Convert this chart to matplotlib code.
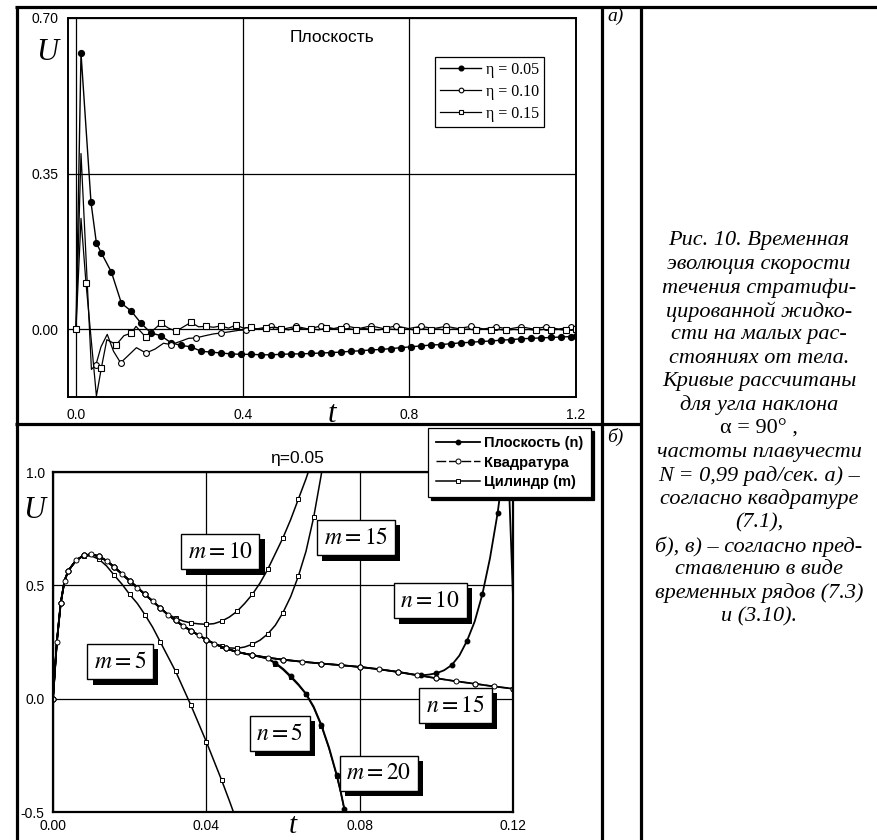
import matplotlib
matplotlib.use('Agg')
import matplotlib.pyplot as plt
from matplotlib.lines import Line2D
import matplotlib.patheffects as pe

plt.rcParams['mathtext.fontset'] = 'stix'
plt.rcParams['font.family'] = ['Liberation Sans', 'DejaVu Sans']

# ---------------- data: panel a) ----------------
t05 = [0.0, 0.012, 0.036, 0.049, 0.061, 0.085, 0.109, 0.133, 0.156, 0.180, 0.204, 0.228,
       0.252, 0.276, 0.300, 0.324, 0.348, 0.372, 0.396, 0.420, 0.444, 0.468, 0.492, 0.516,
       0.540, 0.564, 0.588, 0.612, 0.636, 0.660, 0.684, 0.708, 0.732, 0.756, 0.780, 0.804,
       0.828, 0.852, 0.876, 0.900, 0.924, 0.948, 0.972, 0.996, 1.020, 1.044, 1.068, 1.092,
       1.116, 1.140, 1.164, 1.188, 1.200]
u05 = [0.0, 0.621, 0.285, 0.193, 0.171, 0.128, 0.058, 0.040, 0.013, -0.009, -0.015, -0.031,
       -0.037, -0.040, -0.050, -0.052, -0.054, -0.056, -0.057, -0.057, -0.058, -0.058, -0.057, -0.056,
       -0.056, -0.055, -0.054, -0.053, -0.052, -0.050, -0.049, -0.047, -0.046, -0.044, -0.042, -0.040,
       -0.038, -0.036, -0.035, -0.033, -0.031, -0.030, -0.028, -0.027, -0.025, -0.024, -0.022, -0.021,
       -0.020, -0.019, -0.018, -0.017, -0.016]

t10 = [0.0, 0.012, 0.037, 0.048, 0.060, 0.075, 0.090, 0.107, 0.125, 0.145, 0.168, 0.190,
       0.210, 0.228, 0.250, 0.270, 0.288, 0.310, 0.330, 0.348, 0.370, 0.390, 0.408, 0.438,
       0.468, 0.498, 0.528, 0.558, 0.588, 0.618, 0.648, 0.678, 0.708, 0.738, 0.768, 0.798,
       0.828, 0.858, 0.888, 0.918, 0.948, 0.978, 1.008, 1.038, 1.068, 1.098, 1.128, 1.158,
       1.188, 1.200]
u10 = [0.0, 0.395, -0.091, -0.080, -0.040, -0.012, -0.050, -0.076, -0.060, -0.042, -0.054, -0.045,
       -0.032, -0.035, -0.028, -0.021, -0.020, -0.015, -0.011, -0.009, -0.006, -0.003, -0.002, 0.001,
       0.006, 0.000, 0.006, 0.000, 0.007, 0.001, 0.007, 0.001, 0.007, 0.001, 0.007, 0.001,
       0.006, 0.001, 0.006, 0.001, 0.006, 0.000, 0.005, 0.000, 0.005, 0.000, 0.005, 0.000,
       0.004, 0.003]
mk10 = [0, 3, 7, 10, 13, 16, 19, 22, 24, 26, 28, 30, 32, 34, 36, 38, 40, 42, 44, 46, 48]

t15 = [0.0, 0.012, 0.024, 0.049, 0.061, 0.074, 0.097, 0.115, 0.133, 0.144, 0.168, 0.186,
       0.204, 0.222, 0.240, 0.258, 0.276, 0.294, 0.312, 0.330, 0.348, 0.366, 0.384, 0.402,
       0.420, 0.438, 0.456, 0.474, 0.492, 0.510, 0.528, 0.546, 0.564, 0.582, 0.600, 0.618,
       0.636, 0.654, 0.672, 0.690, 0.708, 0.726, 0.744, 0.762, 0.780, 0.798, 0.816, 0.834,
       0.852, 0.870, 0.888, 0.906, 0.924, 0.942, 0.960, 0.978, 0.996, 1.014, 1.032, 1.050,
       1.068, 1.086, 1.104, 1.122, 1.140, 1.158, 1.176, 1.194, 1.200]
u15 = [0.0, 0.249, 0.103, -0.151, -0.087, -0.024, -0.035, -0.015, -0.009, 0.006, -0.019, -0.002,
       0.013, 0.002, -0.005, 0.005, 0.015, 0.005, 0.006, 0.004, 0.007, 0.002, 0.009, 0.002,
       0.004, -0.001, 0.002, 0.004, 0.001, -0.002, 0.003, 0.000, 0.001, -0.002, 0.002, 0.001,
       -0.001, 0.001, -0.002, 0.001, 0.000, -0.002, 0.001, -0.001, -0.002, 0.000, -0.003, 0.000,
       -0.002, 0.000, -0.003, 0.000, -0.002, 0.000, -0.003, 0.000, -0.002, -0.001, -0.003, -0.001,
       -0.002, -0.001, -0.003, -0.001, -0.002, -0.001, -0.003, -0.001, -0.001]
mk15 = [0, 2, 4, 6, 8, 10] + list(range(12, 69, 2))

legend_a = ['η = 0.05', 'η = 0.10', 'η = 0.15']

# ---------------- data: panel b) ----------------
t_base = [0.000, 0.001, 0.002, 0.003, 0.004, 0.006, 0.008, 0.010, 0.012, 0.014, 0.016, 0.018,
          0.020, 0.022, 0.024, 0.026, 0.028, 0.030, 0.032, 0.034, 0.036, 0.038, 0.040, 0.042,
          0.045, 0.048, 0.052, 0.056, 0.060, 0.065, 0.070, 0.075, 0.080, 0.085, 0.090, 0.095,
          0.100, 0.105, 0.110, 0.115, 0.120]
u_base = [0.000, 0.250, 0.420, 0.520, 0.565, 0.610, 0.632, 0.637, 0.628, 0.608, 0.580, 0.550,
          0.520, 0.490, 0.460, 0.430, 0.400, 0.370, 0.345, 0.320, 0.300, 0.280, 0.260, 0.243,
          0.222, 0.206, 0.192, 0.181, 0.172, 0.163, 0.155, 0.148, 0.140, 0.130, 0.118, 0.104,
          0.090, 0.077, 0.066, 0.054, 0.044]

# cylinder m=5
t_m5 = [0.000, 0.001, 0.002, 0.003, 0.004, 0.006, 0.008, 0.010, 0.012, 0.014, 0.016, 0.018,
        0.020, 0.022, 0.024, 0.026, 0.028, 0.030, 0.032, 0.034, 0.036, 0.038, 0.040, 0.042,
        0.044, 0.046, 0.0475]
u_m5 = [0.000, 0.250, 0.420, 0.520, 0.565, 0.610, 0.630, 0.630, 0.615, 0.585, 0.544, 0.505,
        0.460, 0.420, 0.370, 0.315, 0.250, 0.185, 0.120, 0.045, -0.030, -0.110, -0.190, -0.275,
        -0.360, -0.450, -0.520]
# cylinder m=10 (follows base up to t=0.028)
t_m10_tail = [0.030, 0.032, 0.034, 0.036, 0.038, 0.040, 0.042, 0.044, 0.046, 0.048, 0.050, 0.052,
              0.054, 0.056, 0.058, 0.060, 0.062, 0.064, 0.066, 0.068]
u_m10_tail = [0.372, 0.355, 0.342, 0.334, 0.330, 0.328, 0.331, 0.342, 0.360, 0.385, 0.420, 0.460,
              0.510, 0.570, 0.640, 0.710, 0.790, 0.880, 0.970, 1.070]
# cylinder m=15 (follows base up to t=0.042)
t_m15_tail = [0.044, 0.046, 0.048, 0.050, 0.052, 0.054, 0.056, 0.058, 0.060, 0.062, 0.064, 0.066,
              0.068, 0.070, 0.0705]
u_m15_tail = [0.232, 0.224, 0.222, 0.228, 0.240, 0.258, 0.285, 0.324, 0.380, 0.450, 0.540, 0.650,
              0.800, 0.990, 1.060]
# cylinder m=20 (follows base up to t=0.052)
t_m20_tail = [0.056, 0.058, 0.060, 0.062, 0.064, 0.066, 0.068, 0.070, 0.072, 0.074, 0.075, 0.076,
              0.0765]
u_m20_tail = [0.176, 0.155, 0.128, 0.095, 0.060, 0.020, -0.040, -0.120, -0.220, -0.340, -0.410, -0.490,
              -0.530]
# plane n=5 (follows base up to t=0.052)
t_n5_tail = [0.056, 0.058, 0.060, 0.062, 0.064, 0.066, 0.068, 0.070, 0.072, 0.074, 0.075, 0.076,
             0.0766]
u_n5_tail = [0.178, 0.158, 0.132, 0.100, 0.064, 0.022, -0.035, -0.115, -0.215, -0.335, -0.405, -0.485,
             -0.530]
# plane n=10 (follows base up to t=0.090)
t_n10_tail = [0.094, 0.096, 0.098, 0.100, 0.102, 0.104, 0.106, 0.108, 0.110, 0.112, 0.114, 0.116,
              0.118, 0.1185, 0.120]
u_n10_tail = [0.106, 0.103, 0.106, 0.112, 0.125, 0.148, 0.190, 0.255, 0.340, 0.460, 0.620, 0.820,
              1.080, 1.150, 0.450]

legend_b = ['Плоскость (n)', 'Квадратура', 'Цилиндр (m)']
box_labels = [r'$m = 10$', r'$m = 15$', r'$n = 10$', r'$m = 5$', r'$n = 15$', r'$n = 5$', r'$m = 20$']
box_t = [0.0436, 0.0790, 0.0984, 0.0175, 0.1050, 0.0592, 0.0850]
box_u = [0.648, 0.710, 0.432, 0.163, -0.031, -0.154, -0.330]

caption = ['Рис. 10. Временная', 'эволюция скорости', 'течения стратифи-',
           'цированной жидко-', 'сти на малых рас-', 'стояниях от тела.',
           'Кривые рассчитаны', 'для угла наклона', 'α = 90° ,',
           'частоты плавучести', 'N = 0,99 рад/сек. а) –', 'согласно квадратуре',
           '(7.1),', 'б), в) – согласно пред-', 'ставлению в виде',
           'временных рядов (7.3)', 'и (3.10).']

# ---------------- figure ----------------
W, H = 877, 840
fig = plt.figure(figsize=(W / 100, H / 100), dpi=100)


def rect(l, t, r, b):
    return [l / W, 1 - b / H, (r - l) / W, (b - t) / H]


def fx(x):
    return x / W


def fy(y):
    return 1 - y / H


def hline(y, x0, x1, lw=2.3):
    fig.add_artist(Line2D([fx(x0), fx(x1)], [fy(y), fy(y)], color='black', lw=lw,
                          transform=fig.transFigure, solid_capstyle='butt'))


def vline(x, y0, y1, lw=2.3):
    fig.add_artist(Line2D([fx(x), fx(x)], [fy(y0), fy(y1)], color='black', lw=lw,
                          transform=fig.transFigure, solid_capstyle='butt'))


hline(7, 15.5, 877)
hline(424, 15.5, 641)
vline(16.5, 6, 840)
vline(602, 6, 840)
vline(640.5, 6, 840)

serif = ['Liberation Serif', 'DejaVu Serif']

# ---------- panel a ----------
ax1 = fig.add_axes(rect(68, 18, 576, 397))
ax1.plot(t05, u05, color='black', lw=1.0, marker='o', ms=4.2, mfc='black', mec='black',
         label=legend_a[0])
ax1.plot(t10, u10, color='black', lw=0.9, marker='o', ms=4.2, mfc='white', mec='black',
         mew=0.8, markevery=mk10, label=legend_a[1])
ax1.plot(t15, u15, color='black', lw=0.9, marker='s', ms=4.2, mfc='white', mec='black',
         mew=0.8, markevery=mk15, label=legend_a[2])
ax1.set_xlim(-0.0192, 1.2)
ax1.set_ylim(-0.153, 0.70)
ax1.set_xticks([0.0, 0.4, 0.8, 1.2])
ax1.set_xticklabels(['0.0', '0.4', '0.8', '1.2'])
ax1.set_yticks([0.0, 0.35, 0.70])
ax1.set_yticklabels(['0.00', '0.35', '0.70'])
ax1.grid(True, color='black', lw=0.9)
ax1.tick_params(length=0, labelsize=10, pad=7)
ax1.tick_params(axis='x', pad=8)
for s in ax1.spines.values():
    s.set_linewidth(1.4)
fig.text(fx(332), fy(38), 'Плоскость', ha='center', va='center', fontsize=12.5)
fig.text(fx(47), fy(53), 'U', fontsize=22, style='italic', family=serif, ha='center', va='center')
fig.text(fx(332), fy(414), 't', fontsize=22, style='italic', family=serif, ha='center', va='center')
leg1 = ax1.legend(loc='upper left', bbox_to_anchor=(fx(435), fy(57)),
                  bbox_transform=fig.transFigure, prop={'family': serif, 'size': 11.5},
                  frameon=True, fancybox=False, edgecolor='black', framealpha=1,
                  handlelength=2.6, handletextpad=0.3, borderpad=0.3, labelspacing=0.38,
                  borderaxespad=0, markerscale=0.8)
leg1.get_frame().set_linewidth(0.9)

# ---------- panel b ----------
ax2 = fig.add_axes(rect(53, 472, 513, 812))
pl = dict(color='black', lw=1.3, marker='o', ms=3.2, mfc='black', mec='black', markevery=2)
qu = dict(color='black', lw=1.0, ls=(0, (7, 2)), marker='o', ms=3.6, mfc='white', mec='black',
          mew=0.7)
cy = dict(color='black', lw=1.1, marker='s', ms=3.4, mfc='white', mec='black', mew=0.7,
          markevery=2)

i28 = t_base.index(0.028) + 1
i42 = t_base.index(0.042) + 1
i52 = t_base.index(0.052) + 1
i90 = t_base.index(0.090) + 1

ax2.plot(t_m5, u_m5, label=legend_b[2], **cy)
ax2.plot(t_base[:i28] + t_m10_tail, u_base[:i28] + u_m10_tail, **cy)
ax2.plot(t_base[:i42] + t_m15_tail, u_base[:i42] + u_m15_tail, **cy)
ax2.plot(t_base[:i52] + t_m20_tail, u_base[:i52] + u_m20_tail, **cy)
ax2.plot(t_base, u_base, **pl)  # n = 15
ax2.plot(t_base[:i52] + t_n5_tail, u_base[:i52] + u_n5_tail, label=legend_b[0], **pl)
ax2.plot(t_base[:i90] + t_n10_tail, u_base[:i90] + u_n10_tail, **pl)
ax2.plot(t_base, u_base, label=legend_b[1], **qu)

ax2.set_xlim(0, 0.12)
ax2.set_ylim(-0.5, 1.0)
ax2.set_xticks([0.0, 0.04, 0.08, 0.12])
ax2.set_xticklabels(['0.00', '0.04', '0.08', '0.12'])
ax2.set_yticks([-0.5, 0.0, 0.5, 1.0])
ax2.set_yticklabels(['-0.5', '0.0', '0.5', '1.0'])
ax2.grid(True, color='black', lw=0.9)
ax2.tick_params(length=0, labelsize=10, pad=6)
ax2.tick_params(axis='x', pad=5)
for s in ax2.spines.values():
    s.set_linewidth(1.6)
fig.text(fx(297), fy(459), 'η=0.05', fontsize=12.5, ha='center', va='center')
fig.text(fx(34), fy(510), 'U', fontsize=22, style='italic', family=serif, ha='center', va='center')
fig.text(fx(293), fy(826), 't', fontsize=21, style='italic', family=serif, ha='center', va='center')

handles, labels = ax2.get_legend_handles_labels()
order = [labels.index(l) for l in legend_b]
leg2 = ax2.legend([handles[i] for i in order], [labels[i] for i in order],
                  loc='upper left', bbox_to_anchor=(fx(428), fy(428)),
                  bbox_transform=fig.transFigure, prop={'weight': 'bold', 'size': 10.5},
                  frameon=True, fancybox=False, edgecolor='black', framealpha=1,
                  shadow={'color': 'black', 'alpha': 1},
                  handlelength=3.0, handletextpad=0.3, borderpad=0.55, labelspacing=0.38,
                  borderaxespad=0)
leg2.get_frame().set_linewidth(0.9)
leg2.set_zorder(10)

for lab, tx, ux in zip(box_labels, box_t, box_u):
    txt = ax2.text(tx, ux, lab, fontsize=17, ha='center', va='center', color='black',
                   bbox=dict(boxstyle='square,pad=0.28', fc='white', ec='black', lw=1), zorder=7)
    txt.get_bbox_patch().set_path_effects([
        pe.SimplePatchShadow(offset=(3.8, -3.8), shadow_rgbFace='black', alpha=1.0),
        pe.Normal()])

# ---------- side column ----------
fig.text(fx(607), fy(16), 'а)', fontsize=14, style='italic', family=serif, ha='left', va='center')
fig.text(fx(607), fy(437), 'б)', fontsize=14, style='italic', family=serif, ha='left', va='center')
y0, dy = 241, 23.5
for i, line in enumerate(caption):
    st = 'normal' if line.startswith('α') else 'italic'
    fig.text(fx(759), fy(y0 + i * dy), line, fontsize=16, style=st, family=serif,
             ha='center', va='center')

fig.savefig('out.png', dpi=100)
